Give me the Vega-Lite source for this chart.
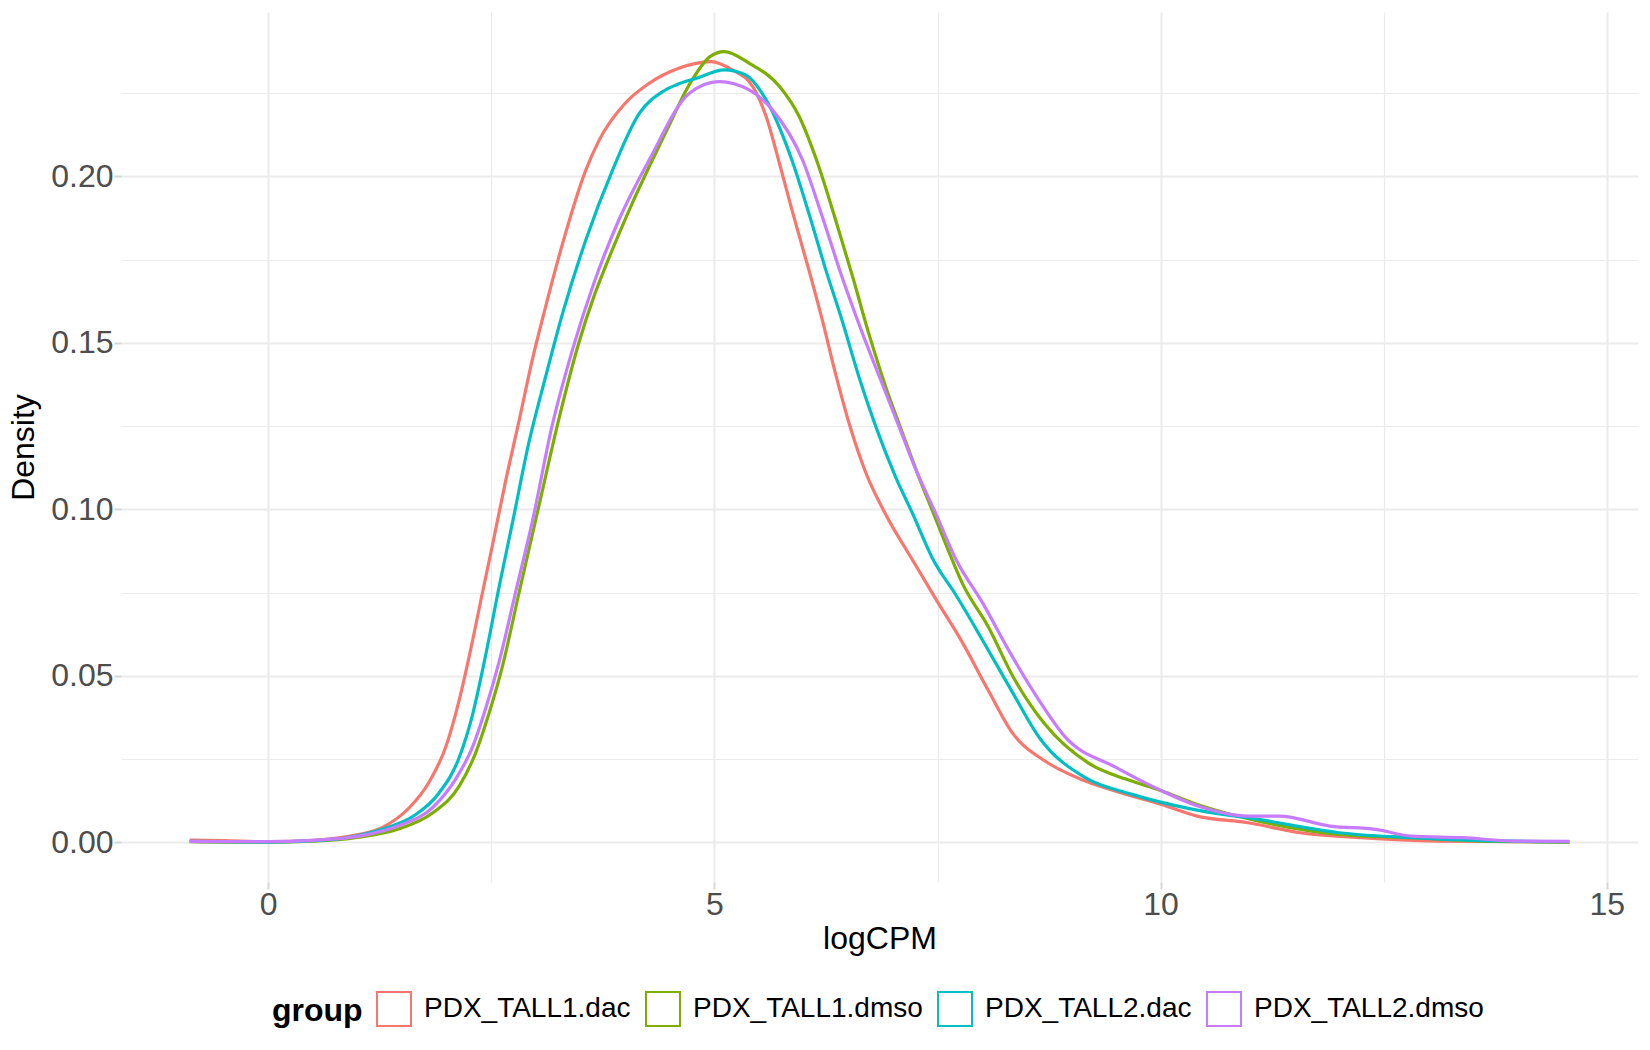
{
  "$schema": "https://vega.github.io/schema/vega-lite/v6.json",
  "width": 1517,
  "height": 870,
  "autosize": {"type": "none"},
  "padding": {"left": 121, "top": 12, "right": 12, "bottom": 168},
  "background": "white",
  "datasets": {
    "dens": [
      {"group": "PDX_TALL1.dac", "logCPM": -0.88, "density": 0.0007},
      {"group": "PDX_TALL1.dac", "logCPM": -0.5, "density": 0.0005},
      {"group": "PDX_TALL1.dac", "logCPM": 0, "density": 0.0002},
      {"group": "PDX_TALL1.dac", "logCPM": 0.5, "density": 0.0006},
      {"group": "PDX_TALL1.dac", "logCPM": 0.9, "density": 0.0018},
      {"group": "PDX_TALL1.dac", "logCPM": 1.28, "density": 0.0045},
      {"group": "PDX_TALL1.dac", "logCPM": 1.58, "density": 0.0104},
      {"group": "PDX_TALL1.dac", "logCPM": 1.8, "density": 0.018},
      {"group": "PDX_TALL1.dac", "logCPM": 1.99, "density": 0.0287},
      {"group": "PDX_TALL1.dac", "logCPM": 2.14, "density": 0.0427},
      {"group": "PDX_TALL1.dac", "logCPM": 2.25, "density": 0.0556},
      {"group": "PDX_TALL1.dac", "logCPM": 2.4, "density": 0.0749},
      {"group": "PDX_TALL1.dac", "logCPM": 2.51, "density": 0.0889},
      {"group": "PDX_TALL1.dac", "logCPM": 2.66, "density": 0.1085},
      {"group": "PDX_TALL1.dac", "logCPM": 2.81, "density": 0.1265},
      {"group": "PDX_TALL1.dac", "logCPM": 2.96, "density": 0.145},
      {"group": "PDX_TALL1.dac", "logCPM": 3.1, "density": 0.16},
      {"group": "PDX_TALL1.dac", "logCPM": 3.3, "density": 0.18},
      {"group": "PDX_TALL1.dac", "logCPM": 3.56, "density": 0.202},
      {"group": "PDX_TALL1.dac", "logCPM": 3.71, "density": 0.211},
      {"group": "PDX_TALL1.dac", "logCPM": 4.0, "density": 0.222},
      {"group": "PDX_TALL1.dac", "logCPM": 4.27, "density": 0.228},
      {"group": "PDX_TALL1.dac", "logCPM": 4.6, "density": 0.2325},
      {"group": "PDX_TALL1.dac", "logCPM": 4.96, "density": 0.2345},
      {"group": "PDX_TALL1.dac", "logCPM": 5.2, "density": 0.232},
      {"group": "PDX_TALL1.dac", "logCPM": 5.43, "density": 0.227},
      {"group": "PDX_TALL1.dac", "logCPM": 5.58, "density": 0.218},
      {"group": "PDX_TALL1.dac", "logCPM": 5.72, "density": 0.2048},
      {"group": "PDX_TALL1.dac", "logCPM": 5.87, "density": 0.1898},
      {"group": "PDX_TALL1.dac", "logCPM": 6.06, "density": 0.1718},
      {"group": "PDX_TALL1.dac", "logCPM": 6.21, "density": 0.1568},
      {"group": "PDX_TALL1.dac", "logCPM": 6.36, "density": 0.1405},
      {"group": "PDX_TALL1.dac", "logCPM": 6.51, "density": 0.1258},
      {"group": "PDX_TALL1.dac", "logCPM": 6.7, "density": 0.1108},
      {"group": "PDX_TALL1.dac", "logCPM": 6.92, "density": 0.0985},
      {"group": "PDX_TALL1.dac", "logCPM": 7.22, "density": 0.0848},
      {"group": "PDX_TALL1.dac", "logCPM": 7.49, "density": 0.0727},
      {"group": "PDX_TALL1.dac", "logCPM": 7.78, "density": 0.0600},
      {"group": "PDX_TALL1.dac", "logCPM": 8.07, "density": 0.0456},
      {"group": "PDX_TALL1.dac", "logCPM": 8.35, "density": 0.0325},
      {"group": "PDX_TALL1.dac", "logCPM": 8.7, "density": 0.0245},
      {"group": "PDX_TALL1.dac", "logCPM": 9.15, "density": 0.0185},
      {"group": "PDX_TALL1.dac", "logCPM": 9.61, "density": 0.0145},
      {"group": "PDX_TALL1.dac", "logCPM": 10.01, "density": 0.0114},
      {"group": "PDX_TALL1.dac", "logCPM": 10.41, "density": 0.0079},
      {"group": "PDX_TALL1.dac", "logCPM": 10.98, "density": 0.0059},
      {"group": "PDX_TALL1.dac", "logCPM": 11.56, "density": 0.0029},
      {"group": "PDX_TALL1.dac", "logCPM": 12.24, "density": 0.0014},
      {"group": "PDX_TALL1.dac", "logCPM": 13.1, "density": 0.0004},
      {"group": "PDX_TALL1.dac", "logCPM": 14.58, "density": 0.0001},

      {"group": "PDX_TALL1.dmso", "logCPM": -0.88, "density": 0.0002},
      {"group": "PDX_TALL1.dmso", "logCPM": -0.5, "density": 0.0001},
      {"group": "PDX_TALL1.dmso", "logCPM": 0, "density": 0.0001},
      {"group": "PDX_TALL1.dmso", "logCPM": 0.5, "density": 0.0004},
      {"group": "PDX_TALL1.dmso", "logCPM": 1.0, "density": 0.0015},
      {"group": "PDX_TALL1.dmso", "logCPM": 1.46, "density": 0.004},
      {"group": "PDX_TALL1.dmso", "logCPM": 1.84, "density": 0.0088},
      {"group": "PDX_TALL1.dmso", "logCPM": 2.14, "density": 0.0169},
      {"group": "PDX_TALL1.dmso", "logCPM": 2.32, "density": 0.0266},
      {"group": "PDX_TALL1.dmso", "logCPM": 2.47, "density": 0.0384},
      {"group": "PDX_TALL1.dmso", "logCPM": 2.62, "density": 0.0524},
      {"group": "PDX_TALL1.dmso", "logCPM": 2.81, "density": 0.0749},
      {"group": "PDX_TALL1.dmso", "logCPM": 3.03, "density": 0.1007},
      {"group": "PDX_TALL1.dmso", "logCPM": 3.26, "density": 0.1275},
      {"group": "PDX_TALL1.dmso", "logCPM": 3.48, "density": 0.150},
      {"group": "PDX_TALL1.dmso", "logCPM": 3.65, "density": 0.164},
      {"group": "PDX_TALL1.dmso", "logCPM": 3.78, "density": 0.173},
      {"group": "PDX_TALL1.dmso", "logCPM": 4.08, "density": 0.192},
      {"group": "PDX_TALL1.dmso", "logCPM": 4.45, "density": 0.213},
      {"group": "PDX_TALL1.dmso", "logCPM": 4.75, "density": 0.229},
      {"group": "PDX_TALL1.dmso", "logCPM": 4.95, "density": 0.236},
      {"group": "PDX_TALL1.dmso", "logCPM": 5.11, "density": 0.2375},
      {"group": "PDX_TALL1.dmso", "logCPM": 5.39, "density": 0.234},
      {"group": "PDX_TALL1.dmso", "logCPM": 5.73, "density": 0.227},
      {"group": "PDX_TALL1.dmso", "logCPM": 5.95, "density": 0.218},
      {"group": "PDX_TALL1.dmso", "logCPM": 6.15, "density": 0.2045},
      {"group": "PDX_TALL1.dmso", "logCPM": 6.36, "density": 0.1868},
      {"group": "PDX_TALL1.dmso", "logCPM": 6.55, "density": 0.1698},
      {"group": "PDX_TALL1.dmso", "logCPM": 6.73, "density": 0.1528},
      {"group": "PDX_TALL1.dmso", "logCPM": 6.92, "density": 0.1368},
      {"group": "PDX_TALL1.dmso", "logCPM": 7.11, "density": 0.1228},
      {"group": "PDX_TALL1.dmso", "logCPM": 7.29, "density": 0.1098},
      {"group": "PDX_TALL1.dmso", "logCPM": 7.44, "density": 0.0998},
      {"group": "PDX_TALL1.dmso", "logCPM": 7.65, "density": 0.0858},
      {"group": "PDX_TALL1.dmso", "logCPM": 7.78, "density": 0.0777},
      {"group": "PDX_TALL1.dmso", "logCPM": 8.07, "density": 0.0647},
      {"group": "PDX_TALL1.dmso", "logCPM": 8.35, "density": 0.0496},
      {"group": "PDX_TALL1.dmso", "logCPM": 8.7, "density": 0.0356},
      {"group": "PDX_TALL1.dmso", "logCPM": 9.21, "density": 0.0235},
      {"group": "PDX_TALL1.dmso", "logCPM": 9.61, "density": 0.019},
      {"group": "PDX_TALL1.dmso", "logCPM": 10.01, "density": 0.0155},
      {"group": "PDX_TALL1.dmso", "logCPM": 10.41, "density": 0.0114},
      {"group": "PDX_TALL1.dmso", "logCPM": 11.1, "density": 0.0064},
      {"group": "PDX_TALL1.dmso", "logCPM": 12.0, "density": 0.0024},
      {"group": "PDX_TALL1.dmso", "logCPM": 12.81, "density": 0.0014},
      {"group": "PDX_TALL1.dmso", "logCPM": 13.67, "density": 0.0004},
      {"group": "PDX_TALL1.dmso", "logCPM": 14.58, "density": 0.0001},

      {"group": "PDX_TALL2.dac", "logCPM": -0.88, "density": 0.0003},
      {"group": "PDX_TALL2.dac", "logCPM": -0.5, "density": 0.0002},
      {"group": "PDX_TALL2.dac", "logCPM": 0, "density": 0.0001},
      {"group": "PDX_TALL2.dac", "logCPM": 0.5, "density": 0.0005},
      {"group": "PDX_TALL2.dac", "logCPM": 0.9, "density": 0.0015},
      {"group": "PDX_TALL2.dac", "logCPM": 1.28, "density": 0.004},
      {"group": "PDX_TALL2.dac", "logCPM": 1.65, "density": 0.0083},
      {"group": "PDX_TALL2.dac", "logCPM": 1.91, "density": 0.0147},
      {"group": "PDX_TALL2.dac", "logCPM": 2.14, "density": 0.0255},
      {"group": "PDX_TALL2.dac", "logCPM": 2.29, "density": 0.0384},
      {"group": "PDX_TALL2.dac", "logCPM": 2.44, "density": 0.0567},
      {"group": "PDX_TALL2.dac", "logCPM": 2.59, "density": 0.0771},
      {"group": "PDX_TALL2.dac", "logCPM": 2.74, "density": 0.0964},
      {"group": "PDX_TALL2.dac", "logCPM": 2.92, "density": 0.12},
      {"group": "PDX_TALL2.dac", "logCPM": 3.11, "density": 0.140},
      {"group": "PDX_TALL2.dac", "logCPM": 3.3, "density": 0.159},
      {"group": "PDX_TALL2.dac", "logCPM": 3.56, "density": 0.181},
      {"group": "PDX_TALL2.dac", "logCPM": 3.86, "density": 0.202},
      {"group": "PDX_TALL2.dac", "logCPM": 4.16, "density": 0.219},
      {"group": "PDX_TALL2.dac", "logCPM": 4.42, "density": 0.2255},
      {"group": "PDX_TALL2.dac", "logCPM": 4.57, "density": 0.2275},
      {"group": "PDX_TALL2.dac", "logCPM": 4.8, "density": 0.2295},
      {"group": "PDX_TALL2.dac", "logCPM": 5.11, "density": 0.232},
      {"group": "PDX_TALL2.dac", "logCPM": 5.35, "density": 0.2305},
      {"group": "PDX_TALL2.dac", "logCPM": 5.58, "density": 0.223},
      {"group": "PDX_TALL2.dac", "logCPM": 5.87, "density": 0.2048},
      {"group": "PDX_TALL2.dac", "logCPM": 6.06, "density": 0.1888},
      {"group": "PDX_TALL2.dac", "logCPM": 6.25, "density": 0.1718},
      {"group": "PDX_TALL2.dac", "logCPM": 6.43, "density": 0.1568},
      {"group": "PDX_TALL2.dac", "logCPM": 6.62, "density": 0.1398},
      {"group": "PDX_TALL2.dac", "logCPM": 6.81, "density": 0.1248},
      {"group": "PDX_TALL2.dac", "logCPM": 7.03, "density": 0.1098},
      {"group": "PDX_TALL2.dac", "logCPM": 7.22, "density": 0.0988},
      {"group": "PDX_TALL2.dac", "logCPM": 7.44, "density": 0.0855},
      {"group": "PDX_TALL2.dac", "logCPM": 7.72, "density": 0.0737},
      {"group": "PDX_TALL2.dac", "logCPM": 8.01, "density": 0.0605},
      {"group": "PDX_TALL2.dac", "logCPM": 8.35, "density": 0.0446},
      {"group": "PDX_TALL2.dac", "logCPM": 8.64, "density": 0.0315},
      {"group": "PDX_TALL2.dac", "logCPM": 9.15, "density": 0.0195},
      {"group": "PDX_TALL2.dac", "logCPM": 9.67, "density": 0.0145},
      {"group": "PDX_TALL2.dac", "logCPM": 10.35, "density": 0.01},
      {"group": "PDX_TALL2.dac", "logCPM": 11.1, "density": 0.0069},
      {"group": "PDX_TALL2.dac", "logCPM": 12.0, "density": 0.0029},
      {"group": "PDX_TALL2.dac", "logCPM": 12.81, "density": 0.0014},
      {"group": "PDX_TALL2.dac", "logCPM": 13.6, "density": 0.0005},
      {"group": "PDX_TALL2.dac", "logCPM": 14.58, "density": 0.0002},

      {"group": "PDX_TALL2.dmso", "logCPM": -0.88, "density": 0.0003},
      {"group": "PDX_TALL2.dmso", "logCPM": -0.5, "density": 0.0002},
      {"group": "PDX_TALL2.dmso", "logCPM": 0, "density": 0.0002},
      {"group": "PDX_TALL2.dmso", "logCPM": 0.5, "density": 0.0006},
      {"group": "PDX_TALL2.dmso", "logCPM": 1.0, "density": 0.0018},
      {"group": "PDX_TALL2.dmso", "logCPM": 1.46, "density": 0.005},
      {"group": "PDX_TALL2.dmso", "logCPM": 1.84, "density": 0.0104},
      {"group": "PDX_TALL2.dmso", "logCPM": 2.1, "density": 0.019},
      {"group": "PDX_TALL2.dmso", "logCPM": 2.29, "density": 0.0287},
      {"group": "PDX_TALL2.dmso", "logCPM": 2.44, "density": 0.0405},
      {"group": "PDX_TALL2.dmso", "logCPM": 2.59, "density": 0.0545},
      {"group": "PDX_TALL2.dmso", "logCPM": 2.77, "density": 0.0749},
      {"group": "PDX_TALL2.dmso", "logCPM": 2.96, "density": 0.0964},
      {"group": "PDX_TALL2.dmso", "logCPM": 3.18, "density": 0.125},
      {"group": "PDX_TALL2.dmso", "logCPM": 3.41, "density": 0.148},
      {"group": "PDX_TALL2.dmso", "logCPM": 3.65, "density": 0.168},
      {"group": "PDX_TALL2.dmso", "logCPM": 3.93, "density": 0.187},
      {"group": "PDX_TALL2.dmso", "logCPM": 4.27, "density": 0.205},
      {"group": "PDX_TALL2.dmso", "logCPM": 4.72, "density": 0.225},
      {"group": "PDX_TALL2.dmso", "logCPM": 5.05, "density": 0.2285},
      {"group": "PDX_TALL2.dmso", "logCPM": 5.39, "density": 0.226},
      {"group": "PDX_TALL2.dmso", "logCPM": 5.65, "density": 0.22},
      {"group": "PDX_TALL2.dmso", "logCPM": 5.99, "density": 0.2048},
      {"group": "PDX_TALL2.dmso", "logCPM": 6.21, "density": 0.1878},
      {"group": "PDX_TALL2.dmso", "logCPM": 6.43, "density": 0.1698},
      {"group": "PDX_TALL2.dmso", "logCPM": 6.66, "density": 0.1528},
      {"group": "PDX_TALL2.dmso", "logCPM": 6.85, "density": 0.1398},
      {"group": "PDX_TALL2.dmso", "logCPM": 7.07, "density": 0.1248},
      {"group": "PDX_TALL2.dmso", "logCPM": 7.26, "density": 0.1118},
      {"group": "PDX_TALL2.dmso", "logCPM": 7.48, "density": 0.0988},
      {"group": "PDX_TALL2.dmso", "logCPM": 7.71, "density": 0.0848},
      {"group": "PDX_TALL2.dmso", "logCPM": 8.01, "density": 0.0717},
      {"group": "PDX_TALL2.dmso", "logCPM": 8.3, "density": 0.0576},
      {"group": "PDX_TALL2.dmso", "logCPM": 8.64, "density": 0.0426},
      {"group": "PDX_TALL2.dmso", "logCPM": 8.92, "density": 0.0320},
      {"group": "PDX_TALL2.dmso", "logCPM": 9.5, "density": 0.0225},
      {"group": "PDX_TALL2.dmso", "logCPM": 10.01, "density": 0.0155},
      {"group": "PDX_TALL2.dmso", "logCPM": 10.41, "density": 0.011},
      {"group": "PDX_TALL2.dmso", "logCPM": 10.98, "density": 0.0079},
      {"group": "PDX_TALL2.dmso", "logCPM": 11.33, "density": 0.0079},
      {"group": "PDX_TALL2.dmso", "logCPM": 11.9, "density": 0.0049},
      {"group": "PDX_TALL2.dmso", "logCPM": 12.41, "density": 0.0039},
      {"group": "PDX_TALL2.dmso", "logCPM": 12.81, "density": 0.0019},
      {"group": "PDX_TALL2.dmso", "logCPM": 13.39, "density": 0.0014},
      {"group": "PDX_TALL2.dmso", "logCPM": 13.96, "density": 0.0004},
      {"group": "PDX_TALL2.dmso", "logCPM": 14.58, "density": 0.0003}
    ]
  },
  "data": {"name": "dens"},
  "mark": {"type": "line", "strokeWidth": 3.2, "interpolate": "monotone"},
  "encoding": {
    "x": {
      "field": "logCPM",
      "type": "quantitative",
      "title": "logCPM",
      "scale": {"domain": [-1.65, 15.35], "nice": false, "zero": false},
      "axis": {
        "values": [0, 2.5, 5, 7.5, 10, 12.5, 15],
        "labelExpr": "datum.value % 5 === 0 ? datum.label : ''",
        "domain": false,
        "gridColor": "#ebebeb",
        "gridWidth": {"condition": {"test": "datum.value % 5 !== 0", "value": 1.2}, "value": 2},
        "tickColor": "#d6d6d6",
        "tickWidth": 2,
        "tickSize": 7,
        "tickOpacity": {"condition": {"test": "datum.value % 5 !== 0", "value": 0}, "value": 1},
        "labelPadding": 0,
        "labelFont": "Liberation Sans",
        "labelFontSize": 32,
        "labelColor": "#4d4d4d",
        "titleFont": "Liberation Sans",
        "titleFontSize": 32,
        "titleFontWeight": "normal",
        "titleColor": "#000000",
        "titleBaseline": "alphabetic",
        "titleY": 66
      }
    },
    "y": {
      "field": "density",
      "type": "quantitative",
      "title": "Density",
      "scale": {"domain": [-0.0119, 0.2494], "nice": false, "zero": false},
      "axis": {
        "values": [0, 0.025, 0.05, 0.075, 0.1, 0.125, 0.15, 0.175, 0.2, 0.225],
        "labelExpr": "round(datum.value * 1000) % 50 === 0 ? format(datum.value, '.2f') : ''",
        "domain": false,
        "gridColor": "#ebebeb",
        "gridWidth": {"condition": {"test": "round(datum.value * 1000) % 50 !== 0", "value": 1.2}, "value": 2},
        "tickColor": "#d6d6d6",
        "tickWidth": 2,
        "tickSize": 7,
        "tickOpacity": {"condition": {"test": "round(datum.value * 1000) % 50 !== 0", "value": 0}, "value": 1},
        "labelPadding": 1,
        "labelFont": "Liberation Sans",
        "labelFontSize": 32,
        "labelColor": "#4d4d4d",
        "titleFont": "Liberation Sans",
        "titleFontSize": 32,
        "titleFontWeight": "normal",
        "titleColor": "#000000",
        "titleAngle": -90,
        "titleBaseline": "middle",
        "titleX": -98,
        "titleY": 435
      }
    },
    "color": {
      "field": "group",
      "type": "nominal",
      "title": "group",
      "scale": {
        "domain": ["PDX_TALL1.dac", "PDX_TALL1.dmso", "PDX_TALL2.dac", "PDX_TALL2.dmso"],
        "range": ["#F8766D", "#7CAE00", "#00BFC4", "#C77CFF"]
      },
      "legend": {
        "orient": "none",
        "direction": "horizontal",
        "legendX": 151,
        "legendY": 979,
        "titleOrient": "left",
        "titleFont": "Liberation Sans",
        "titleFontSize": 32,
        "titleFontWeight": "bold",
        "titleColor": "#000000",
        "titlePadding": 13,
        "titleBaseline": "middle",
        "labelFont": "Liberation Sans",
        "labelFontSize": 28,
        "labelColor": "#000000",
        "labelLimit": 0,
        "labelOffset": 12,
        "columnPadding": 11,
        "symbolType": "square",
        "symbolSize": 1156,
        "symbolStrokeWidth": 2,
        "symbolFillColor": "white"
      }
    }
  },
  "config": {
    "view": {"stroke": null}
  }
}
